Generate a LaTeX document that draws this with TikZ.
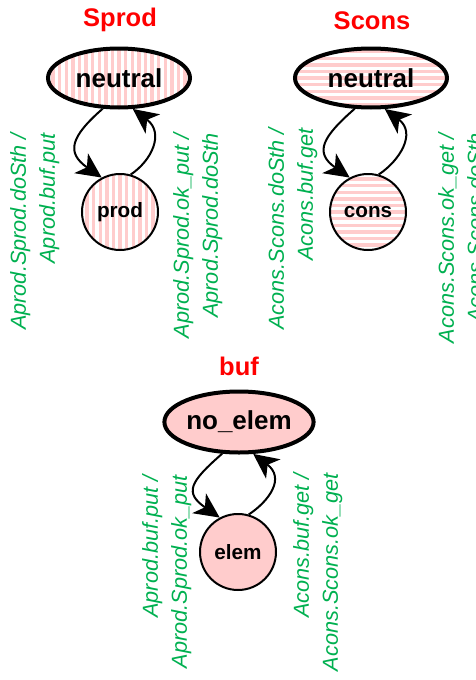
\documentclass[tikz,border=0pt]{standalone}
\usepackage{fontspec}
\setmainfont{Liberation Sans}
\usetikzlibrary{calc,positioning,shapes.geometric,arrows.meta}
\definecolor{titlered}{RGB}{255,0,0}
\definecolor{guardgreen}{RGB}{0,176,80}
\definecolor{statepink}{RGB}{255,204,204}

\begin{document}
\begin{tikzpicture}[x=1pt, y=1pt]
\tikzset{statenode/.style={circle,draw,line width=2pt,minimum size=76pt,inner sep=0,
  font=\fontsize{20.7}{24}\selectfont\bfseries},
initnode/.style={ellipse,draw,line width=4pt,minimum width=142pt,minimum height=59pt,inner sep=0,
  font=\fontsize{26}{30}\selectfont\bfseries},
vstripes/.style={path picture={\foreach \k in {-13,...,13}
  \fill[statepink] ($(path picture bounding box.center)+(\k*6.6-1.7,-60)$) rectangle ++(3.4,120);}},
hstripes/.style={path picture={\foreach \k in {-13,...,13}
  \fill[statepink] ($(path picture bounding box.center)+(-90,\k*6.6-1.7)$) rectangle ++(180,3.4);}},
machinetitle/.style={text=titlered,font=\fontsize{25.5}{30}\selectfont\bfseries,anchor=base},
guardlabel/.style={text=guardgreen,font=\fontsize{21.7}{29}\selectfont\itshape,rotate=90,
  align=right,anchor=north east,inner sep=0},
selfloop/.style={line width=2pt,-{Stealth[length=25pt,width=24pt,inset=7pt]}}}

\useasboundingbox (0,0) rectangle (476,-680);

%% Sprod
\node (pt) [machinetitle] at (120,-27) {Sprod};
\node (pn) [initnode,vstripes] at (119,-78) {neutral};
\node (pp) [statenode,vstripes] at (120,-212) {prod};
\draw[selfloop] (pn.242) .. controls ($(pn.242)+(-32,-28)$) and ($(pp.118)+(-36,25)$) .. (pp.118);
\draw[selfloop] (pp.74) .. controls ($(pp.74)+(21,14)$) and ($(pn.294)+(32,-24)$) .. (pn.294);
\node (pl) [guardlabel] at (10,-133) {Aprod.Sprod.doSth /\\Aprod.buf.put};
\node (pr) [guardlabel] at (173,-133) {Aprod.Sprod.ok\_put /\\Aprod.Sprod.doSth};

%% Scons
\node (ct) [machinetitle] at (372,-29) {Scons};
\node (cn) [initnode,hstripes,minimum width=152pt] at (371,-78) {neutral};
\node (cc) [statenode,hstripes] at (368,-212) {cons};
\draw[selfloop] (cn.242) .. controls ($(cn.242)+(-32,-28)$) and ($(cc.118)+(-36,25)$) .. (cc.118);
\draw[selfloop] (cc.74) .. controls ($(cc.74)+(21,14)$) and ($(cn.294)+(32,-24)$) .. (cn.294);
\node (cl) [guardlabel] at (268,-128) {Acons.Scons.doSth /\\Acons.buf.get};
\node (cr) [guardlabel] at (438,-133) {Acons.Scons.ok\_get /\\Acons.Scons.doSth};

%% buf
\node (bt) [machinetitle] at (239,-375) {buf};
\node (bn) [initnode,fill=statepink,minimum height=61pt] at (239,-422) {no\_elem};
\node (be) [statenode,fill=statepink] at (238,-552) {elem};
\draw[selfloop] (bn.242) .. controls ($(bn.242)+(-32,-28)$) and ($(be.118)+(-36,25)$) .. (be.118);
\draw[selfloop] (be.74) .. controls ($(be.74)+(21,14)$) and ($(bn.294)+(32,-24)$) .. (bn.294);
\node (bl) [guardlabel] at (142,-475) {Aprod.buf.put /\\Aprod.Sprod.ok\_put};
\node (br) [guardlabel] at (293,-473) {Acons.buf.get /\\Acons.Scons.ok\_get};

\end{tikzpicture}
\end{document}
